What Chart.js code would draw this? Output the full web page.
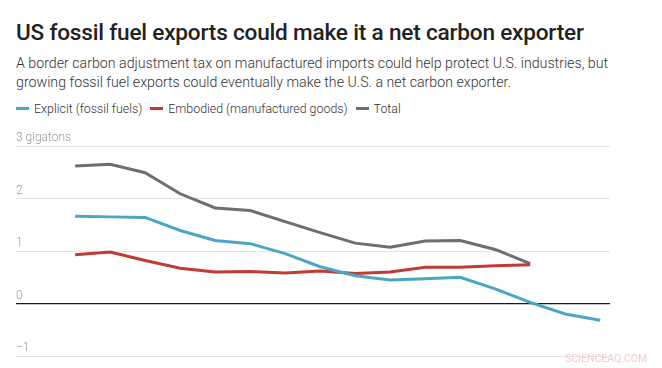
<html lang="en">
<head>
  <meta charset="utf-8">
  <title>US fossil fuel exports</title>
  <style>
    body { margin: 0; width: 662px; height: 368px; background: #fff; font-family: Roboto, sans-serif; position: relative; overflow: hidden; }
    h1 { position: absolute; left: 16px; top: 19px; margin: 0; font-size: 22.6px; line-height: 27px; font-weight: 500; color: #222; letter-spacing: -0.2px; }
    .sub { position: absolute; left: 16px; top: 54px; width: 640px; margin: 0; font-size: 14.2px; line-height: 19px; color: #333; font-weight: 300; }
    .legend { position: absolute; left: 16px; top: 101px; font-size: 12.4px; color: #333; font-weight: 300; }
    .legend span { margin-right: 8px; }
    .legend i { display: inline-block; width: 13px; height: 3px; vertical-align: middle; margin-right: 5px; position: relative; top: -1px; }
    #wrap { position: absolute; left: 0; top: 120px; width: 662px; height: 248px; }
    .wm { position: absolute; left: 565px; top: 352px; font-size: 10.5px; color: #f3c9c9; }
  </style>
</head>
<body>
  <h1>US fossil fuel exports could make it a net carbon exporter</h1>
  <p class="sub">A border carbon adjustment tax on manufactured imports could help protect U.S. industries, but growing fossil fuel exports could eventually make the U.S. a net carbon exporter.</p>
  <div class="legend" id="legend"></div>
  <div id="wrap"><canvas id="myChart"></canvas></div>
  <div class="wm">SCIENCEAQ.COM</div>
  <script src="https://cdn.jsdelivr.net/npm/chart.js"></script>
  <script>
    // values in gigatons (no x labels shown in the original)
    const steps = [0, 1, 2, 3, 4, 5, 6, 7, 8, 9, 10, 11, 12, 13, 14, 15]
    const explicitVals = [1.66, 1.65, 1.64, 1.39, 1.20, 1.14, 0.95, 0.70, 0.53, 0.45, 0.47, 0.50, 0.28, 0.02, -0.20, -0.32]
    const embodiedVals = [0.93, 0.98, 0.82, 0.67, 0.60, 0.61, 0.58, 0.62, 0.57, 0.60, 0.69, 0.69, 0.72, 0.74]
    const totalVals = [2.62, 2.65, 2.49, 2.09, 1.82, 1.77, 1.56, 1.35, 1.15, 1.07, 1.19, 1.20, 1.03, 0.76]
    const yTicks = [3, 2, 1, 0, -1]

    const seriesNames = ['Explicit (fossil fuels)', 'Embodied (manufactured goods)', 'Total']
    const seriesColors = ['#4aa6c4', '#c33a33', '#6e6d72']

    const toPoints = vals => vals.map((v, i) => ({ x: steps[i], y: v }))

    document.getElementById('legend').innerHTML = seriesNames
      .map((n, i) => `<span><i style="background:${seriesColors[i]}"></i>${n}</span>`).join('')

    const ctx = document.getElementById('myChart');
    new Chart(ctx, {
      type: 'line',
      data: {
        datasets: [explicitVals, embodiedVals, totalVals].map((vals, i) => ({
          label: seriesNames[i],
          data: toPoints(vals),
          borderColor: seriesColors[i],
          borderWidth: 3,
          pointRadius: 0,
          tension: 0
        }))
      },
      options: {
        responsive: true,
        maintainAspectRatio: false,
        animation: false,
        layout: { padding: { left: 16, right: 52, top: 26, bottom: 12 } },
        plugins: { legend: { display: false }, tooltip: { enabled: false } },
        scales: {
          x: {
            type: 'linear',
            display: false,
            min: -1.69,
            max: 15.28
          },
          y: {
            min: -1,
            max: 3,
            afterFit: s => { s.width = 0 },
            afterBuildTicks: s => { s.ticks = yTicks.map(v => ({ value: v })) },
            border: { display: false },
            grid: {
              drawTicks: false,
              color: c => c.tick && c.tick.value === 0 ? '#1a1a1a' : '#e4e4e4',
              lineWidth: c => c.tick && c.tick.value === 0 ? 1.3 : 1
            },
            ticks: {
              mirror: true,
              padding: 0,
              labelOffset: -8,
              color: '#999',
              font: { family: 'Roboto', size: 12, weight: 300 },
              callback: v => v === 3 ? '3 gigatons' : (v < 0 ? '\u2212' + Math.abs(v) : String(v))
            }
          }
        }
      }
    });
  </script>
</body>
</html>
